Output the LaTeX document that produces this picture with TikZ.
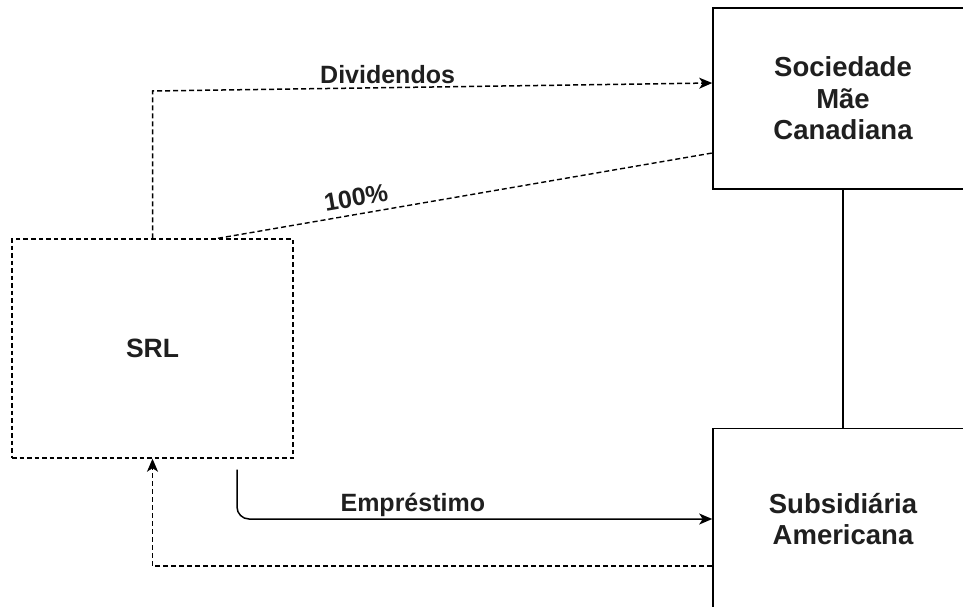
\documentclass[tikz,border=0pt]{standalone}
\usepackage{fontspec}
\setmainfont{Liberation Sans}
\usetikzlibrary{arrows.meta}
\begin{document}
\begin{tikzpicture}[x=1pt,y=-1pt,
  every node/.style={font=\fontsize{25}{31}\selectfont\bfseries, text=black!88},
  boxfont/.style={font=\fontsize{27.5}{31.5}\selectfont\bfseries},
  box/.style={draw, line width=1.6pt, minimum width=260pt, minimum height=181pt, align=center, inner sep=0pt, boxfont},
  dbox/.style={draw, line width=1.4pt, dash pattern=on 4.5pt off 3pt, minimum width=281pt, minimum height=219pt, inner sep=0pt, font=\fontsize{26.5}{31}\selectfont\bfseries},
  conn/.style={line width=1.5pt, -{Stealth[length=13pt,width=11pt,inset=3.5pt]}},
  dconn/.style={conn, dash pattern=on 5pt off 3pt},
  lbl/.style={inner sep=1.5pt}
]
\useasboundingbox (0,0) rectangle (963,607);
\node[box] (can) at (843,98.5) {Sociedade\\Mãe\\Canadiana};
\node[box] (sub) at (843,519) {Subsidiária\\Americana};
\node[dbox] (srl) at (152.5,348.5) {SRL};
\coordinate (d1) at (152.5,91);
\draw[dconn] (srl.north) -- (d1) -- node[lbl, pos=0.42, above, inner sep=3.5pt] {Dividendos} ([yshift=15.5pt]can.west);
\draw[line width=1.4pt, dash pattern=on 5pt off 3pt] ([xshift=65.5pt]srl.north) -- node[pos=0.285, above, sloped, inner sep=7pt] {100\%} ([yshift=-54.5pt]can.west);
\draw[conn, rounded corners=12pt] ([shift={(84.5pt,-11pt)}]srl.south) |- node[lbl, pos=0.685, above] {Empréstimo} (sub.west);
\draw[dconn] ([yshift=-47pt]sub.west) -| (srl.south);
\draw[line width=1.6pt] (can.south) -- (sub.north);
\end{tikzpicture}
\end{document}
